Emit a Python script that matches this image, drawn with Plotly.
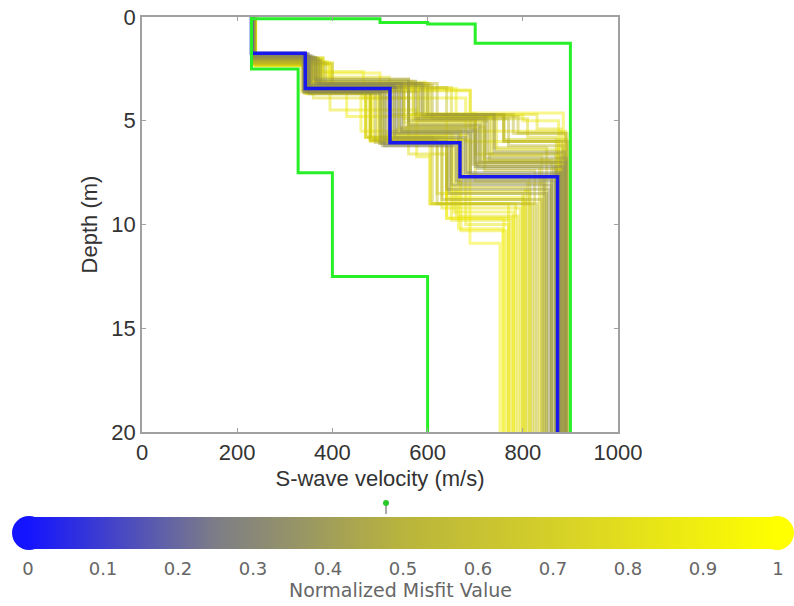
import plotly.graph_objects as go
from plotly.colors import sample_colorscale

# ---------------- data ----------------
# Ensemble of inverted profiles: interface depths (m), layer velocities (m/s), misfit
ens_d1 = [1.80, 1.75, 1.85, 1.78, 1.90, 1.80, 1.95, 1.76, 1.95, 2.00, 2.10, 1.85, 2.10, 2.20, 2.00, 2.25,
          2.20, 1.95, 2.05, 2.10, 2.35, 2.20, 2.10, 2.25, 1.75, 2.23, 2.30, 2.10, 2.00, 2.30, 2.30, 2.30,
          1.95, 2.10, 2.20, 2.25, 2.05, 2.30, 2.15, 2.15, 2.20, 2.05, 1.85, 2.30, 2.00, 2.25, 2.10, 2.25,
          2.15, 2.25, 2.05, 2.30, 2.00, 2.20, 1.90, 2.10, 2.25, 2.35, 2.15, 2.05]
ens_d2 = [3.30, 3.60, 3.20, 3.50, 3.00, 3.60, 3.10, 3.40, 3.70, 3.20, 3.30, 3.65, 3.40, 3.20, 3.60, 3.40,
          3.60, 3.20, 3.65, 3.30, 3.67, 3.60, 3.40, 3.60, 2.90, 3.00, 2.63, 3.10, 2.70, 4.48, 3.30, 3.67,
          3.40, 3.30, 3.55, 3.55, 3.30, 3.90, 3.45, 3.50, 3.70, 3.50, 3.40, 3.20, 3.60, 3.60, 3.20, 3.50,
          3.40, 3.55, 3.25, 3.60, 3.15, 3.50, 3.35, 3.45, 3.30, 3.65, 3.20, 3.55]
ens_d3 = [5.80, 6.20, 5.50, 6.10, 5.20, 6.00, 4.90, 5.60, 6.20, 4.70, 4.70, 6.05, 5.00, 4.70, 5.95, 4.80,
          5.60, 4.80, 5.80, 4.90, 5.93, 5.50, 6.00, 5.95, 4.70, 4.70, 3.90, 4.65, 3.52, 6.73, 4.80, 5.90,
          4.90, 5.20, 4.70, 5.80, 4.80, 6.60, 4.75, 5.30, 6.10, 5.90, 5.40, 4.90, 5.00, 5.80, 4.70, 5.70,
          5.10, 5.60, 4.95, 5.80, 4.85, 5.40, 5.30, 5.75, 4.80, 5.85, 4.75, 5.50]
ens_d4 = [7.50, 7.90, 7.20, 8.10, 7.00, 8.30, 6.80, 7.60, 8.50, 6.50, 6.00, 8.80, 7.00, 5.60, 9.00, 5.60,
          8.00, 6.60, 9.00, 6.20, 10.90, 10.30, 9.80, 9.00, 6.60, 7.00, 6.00, 5.50, 4.63, 9.00, 9.70, 8.50,
          5.80, 7.90, 5.40, 9.20, 6.30, 8.80, 5.00, 7.40, 9.60, 7.80, 7.30, 7.60, 6.90, 9.70, 5.90, 10.00,
          7.20, 8.40, 6.90, 9.40, 6.40, 8.20, 7.10, 8.70, 6.70, 10.20, 6.00, 7.70]
ens_v1 = [232, 230, 232, 230, 234, 231, 233, 230, 236, 232, 235, 233, 236, 234, 235, 232,
          237, 234, 236, 233, 238, 237, 236, 238, 232, 234, 235, 234, 234, 238, 237, 238,
          234, 236, 235, 238, 235, 239, 234, 236, 237, 235, 233, 238, 234, 238, 236, 237,
          236, 237, 235, 238, 234, 237, 233, 236, 237, 238, 236, 235]
ens_v2 = [350, 340, 355, 338, 360, 345, 365, 348, 352, 370, 375, 340, 355, 385, 345, 400,
          350, 365, 342, 375, 348, 345, 350, 335, 339, 395, 360, 350, 380, 395, 360, 348,
          380, 360, 400, 340, 380, 360, 390, 365, 345, 352, 345, 370, 350, 342, 370, 355,
          358, 350, 365, 346, 372, 356, 352, 350, 368, 347, 375, 348]
ens_v3 = [530, 510, 545, 500, 560, 520, 575, 535, 505, 590, 600, 490, 560, 620, 480, 640,
          520, 585, 470, 610, 479, 460, 480, 480, 520, 560, 465, 570, 500, 577, 430, 479,
          650, 560, 690, 470, 590, 560, 660, 540, 500, 515, 540, 550, 580, 470, 600, 500,
          550, 510, 570, 495, 595, 530, 550, 505, 580, 485, 605, 525]
ens_v4 = [680, 660, 700, 650, 710, 640, 720, 690, 645, 740, 760, 630, 700, 780, 620, 790,
          665, 725, 610, 770, 689, 670, 650, 605, 700, 720, 680, 700, 689, 605, 640, 620,
          810, 700, 830, 630, 740, 640, 800, 720, 660, 675, 705, 690, 730, 640, 760, 680,
          710, 650, 715, 655, 745, 670, 695, 640, 735, 665, 760, 685]
ens_v5 = [880, 868, 885, 860, 890, 855, 892, 876, 850, 888, 895, 840, 870, 890, 830, 893,
          845, 880, 820, 885, 752, 765, 775, 785, 870, 880, 875, 890, 885, 770, 780, 800,
          870, 810, 880, 795, 850, 805, 875, 825, 790, 860, 872, 815, 878, 760, 892, 770,
          835, 815, 860, 780, 875, 805, 865, 800, 840, 758, 883, 845]
ens_misfit = [0.32, 0.34, 0.36, 0.38, 0.40, 0.42, 0.44, 0.36, 0.45, 0.43, 0.55, 0.55, 0.60, 0.62, 0.65, 0.68,
              0.58, 0.52, 0.70, 0.60, 1.00, 0.95, 0.90, 0.88, 0.85, 0.92, 0.95, 0.90, 0.97, 0.93, 0.96, 0.82,
              0.80, 0.78, 0.86, 0.90, 0.75, 0.84, 0.95, 0.72, 0.87, 0.50, 0.48, 0.79, 0.66, 0.98, 0.74, 0.93,
              0.85, 0.91, 0.70, 0.94, 0.83, 0.89, 0.57, 0.97, 0.81, 0.99, 0.77, 0.63]

# Best (minimum misfit) profile
best_v = [230, 343, 521, 668, 873]
best_d = [1.75, 3.44, 6.06, 7.70]

# Search-space bounds
min_v = [230, 328, 400, 600]
min_d = [2.5, 7.5, 12.5]
max_v = [230, 500, 600, 700, 900]
max_d = [0.08, 0.27, 0.34, 1.27]

depth_max = 20
x_ticks = [0, 200, 400, 600, 800, 1000]
y_ticks = [0, 5, 10, 15, 20]
cb_ticks = [0, 0.1, 0.2, 0.3, 0.4, 0.5, 0.6, 0.7, 0.8, 0.9, 1]
cb_labels = ['0', '0.1', '0.2', '0.3', '0.4', '0.5', '0.6', '0.7', '0.8', '0.9', '1']
cb_title = 'Normalized Misfit Value'

# ---------------- styling ----------------
cscale = [[0.0, 'rgb(20,20,255)'], [0.25, 'rgb(125,125,135)'], [0.5, 'rgb(185,180,60)'],
          [0.75, 'rgb(220,215,35)'], [1.0, 'rgb(255,255,0)']]
line_scale = [[0.0, 'rgb(20,20,255)'], [0.25, 'rgb(110,110,125)'], [0.5, 'rgb(165,160,50)'],
              [0.75, 'rgb(210,205,20)'], [1.0, 'rgb(245,240,0)']]
AX_FONT = 'Liberation Sans, Arial, sans-serif'
CB_FONT = 'DejaVu Sans, Verdana, sans-serif'


def staircase(vels, depths, bottom):
    xs, ys = [], []
    tops = [0] + list(depths)
    bots = list(depths) + [bottom]
    for v, t, b in zip(vels, tops, bots):
        xs += [v, v]
        ys += [t, b]
    return xs, ys


fig = go.Figure()

# ensemble, worst misfit drawn first
order = sorted(range(len(ens_misfit)), key=lambda i: -ens_misfit[i])
for i in order:
    vs = [ens_v1[i], ens_v2[i], ens_v3[i], ens_v4[i], ens_v5[i]]
    ds = [ens_d1[i], ens_d2[i], ens_d3[i], ens_d4[i]]
    xs, ys = staircase(vs, ds, depth_max)
    col = sample_colorscale(line_scale, [ens_misfit[i]])[0]
    fig.add_trace(go.Scatter(x=xs, y=ys, mode='lines', line=dict(color=col, width=3),
                             opacity=0.45, showlegend=False, hoverinfo='skip'))

bx, by = staircase(best_v, best_d, depth_max)
fig.add_trace(go.Scatter(x=bx, y=by, mode='lines', line=dict(color='rgb(25,25,235)', width=3.5),
                         showlegend=False))

for vv, dd in ((min_v, min_d), (max_v, max_d)):
    gx, gy = staircase(vv, dd, depth_max)
    fig.add_trace(go.Scatter(x=gx, y=gy, mode='lines', line=dict(color='rgb(40,240,40)', width=3),
                             showlegend=False))

# layout geometry (pixels)
W, H = 794, 606
L, R, T, B = 142, 618, 17, 432


def px(x):
    return (x - L) / (R - L)


def py(y):
    return (B - y) / (B - T)


# colour bar carrier
fig.add_trace(go.Scatter(
    x=[None, None], y=[None, None], mode='markers', showlegend=False,
    marker=dict(color=[0, 1], cmin=0, cmax=1, colorscale=cscale, showscale=True,
                colorbar=dict(orientation='h', x=px(403), xanchor='center', y=py(517), yanchor='top',
                              lenmode='pixels', len=750, thicknessmode='pixels', thickness=32,
                              outlinewidth=0, xpad=0, ypad=0,
                              ticks='outside', ticklen=5, tickcolor='rgba(0,0,0,0)',
                              tickvals=cb_ticks, ticktext=cb_labels,
                              tickfont=dict(family=CB_FONT, size=18, color='#666')))))

shapes = [
    dict(type='circle', xref='paper', yref='paper', x0=px(12), x1=px(46), y0=py(550), y1=py(516),
         fillcolor='rgb(20,20,255)', line=dict(width=0), layer='below'),
    dict(type='circle', xref='paper', yref='paper', x0=px(760), x1=px(794), y0=py(550), y1=py(516),
         fillcolor='rgb(255,255,0)', line=dict(width=0), layer='below'),
    dict(type='line', xref='paper', yref='paper', x0=px(386), x1=px(386), y0=py(503), y1=py(514),
         line=dict(color='#aaa', width=2)),
    dict(type='circle', xref='paper', yref='paper', x0=px(383), x1=px(389), y0=py(506), y1=py(500),
         fillcolor='rgb(40,200,40)', line=dict(width=0)),
]

annotations = [
    dict(text=cb_title, xref='paper', yref='paper', x=px(400), y=py(590), xanchor='center',
         yanchor='middle', showarrow=False, font=dict(family=CB_FONT, size=19, color='#666')),
]

axis_common = dict(showline=True, mirror='ticks', linecolor='#a0a0a0', linewidth=1.5,
                   ticks='inside', ticklen=4, tickcolor='#a0a0a0', showgrid=False, zeroline=False,
                   tickfont=dict(family=AX_FONT, size=22, color='#333'))

fig.update_layout(
    width=W, height=H,
    margin=dict(l=L, r=W - R, t=T, b=H - B, autoexpand=False),
    paper_bgcolor='white', plot_bgcolor='white',
    xaxis=dict(range=[0, 1000], tickvals=x_ticks,
               title=dict(text='S-wave velocity (m/s)', standoff=6,
                          font=dict(family=AX_FONT, size=22, color='#333')),
               **axis_common),
    yaxis=dict(range=[depth_max, 0], tickvals=y_ticks,
               title=dict(text='Depth (m)', standoff=8,
                          font=dict(family=AX_FONT, size=22, color='#333')),
               **axis_common),
    shapes=shapes,
    annotations=annotations,
)

fig.write_html('out.html')
